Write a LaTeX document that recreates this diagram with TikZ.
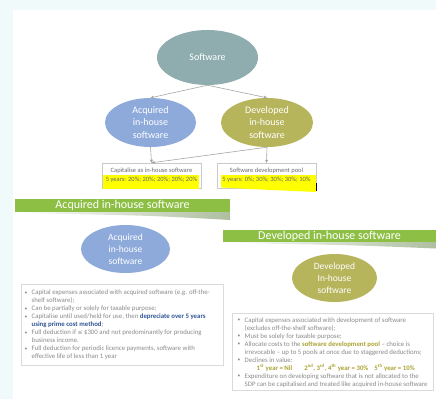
\documentclass[tikz,border=0pt]{standalone}
\usepackage{fontspec}
\usepackage{graphicx}
\setmainfont{Carlito}
\newfontfamily\symfont{DejaVu Sans}
\usetikzlibrary{shapes.geometric,arrows.meta}
\definecolor{bgcyan}{HTML}{F0FAFA}
\definecolor{softcol}{HTML}{8FADAE}
\definecolor{acqcol}{HTML}{8EAADB}
\definecolor{devcol}{HTML}{B7B55C}
\definecolor{bangreen}{HTML}{8DBF45}
\definecolor{swooshcol}{HTML}{AEBFA0}
\definecolor{conncol}{HTML}{A6A6A6}
\definecolor{boxline}{HTML}{C9C9C9}
\definecolor{listline}{HTML}{DADADA}
\definecolor{listgrey}{HTML}{8A8A8A}
\definecolor{ratetextcol}{HTML}{6A6A6A}
\definecolor{boldblue}{HTML}{2F5597}
\definecolor{boldolive}{HTML}{ABA332}
\definecolor{hlyellow}{HTML}{FFFF00}
\newcommand\lbul{\makebox[7pt][l]{\raisebox{0.3pt}{\scalebox{0.8}{\textbullet}}}}
\newcommand\lind{\hspace*{7pt}}
\begin{document}
\begin{tikzpicture}[x=1pt,y=-1pt,
  ell/.style={ellipse, inner sep=0pt, text=white, align=center},
  bigtext/.style={font=\fontsize{10}{12.5}\selectfont},
  smalltext/.style={font=\fontsize{9.5}{12}\selectfont},
  conn/.style={draw=conncol, line width=0.6pt, -{Triangle[length=3pt,width=3pt]}},
  ratebox/.style={draw=boxline, fill=white, line width=0.4pt, inner sep=0pt},
  ratetext/.style={font=\fontsize{6.5}{8.5}\selectfont, text=ratetextcol, align=center, inner sep=0pt},
  banner/.style={fill=bangreen, text=white, inner sep=0pt, font=\fontsize{12}{13}\selectfont},
  listbox/.style={draw=listline, fill=white, line width=0.4pt, inner sep=0pt},
  listtext/.style={font=\fontsize{6.8}{8}\selectfont, text=listgrey, align=left, inner sep=0pt, anchor=north west}
]
\useasboundingbox (0,0) rectangle (436,399);
\fill[bgcyan] (0,0) rectangle (436,399);
\fill[white] (13,10) rectangle (436,399);

% top hierarchy
\node[ell, bigtext, fill=softcol, minimum width=101pt, minimum height=55pt] (soft) at (207.5,57.5) {Software};
\node[ell, bigtext, fill=acqcol, minimum width=91pt, minimum height=49pt] (acq) at (150.5,122.5) {Acquired\\in-house\\software};
\node[ell, bigtext, fill=devcol, minimum width=92pt, minimum height=49pt] (dev) at (267,122.5) {Developed\\in-house\\software};

\node[ratebox, minimum width=99pt, minimum height=25pt] (capbox) at (151.5,175.5) {};
\node[ratebox, minimum width=99pt, minimum height=25pt] (poolbox) at (266.5,175.5) {};

\draw[conn] (soft.south) -- (acq.north);
\draw[conn] (soft.south) -- (dev.north);
\draw[conn] (acq.south) -- (capbox.north);
\draw[conn] (dev.south) -- (poolbox.north);
\draw[conn] (dev.south) -- (capbox.north);

\fill[hlyellow] (103,175) rectangle (199,189);
\fill[hlyellow] (221,175) -- (316,175) -- (316,192) -- (250,189) -- (221,187.5) -- cycle;
\draw[black, line width=0.8pt] (316.5,183) -- (316.5,191);

\node[ratetext] (captext) at (capbox) {Capitalise as in-house software\\5 years: 20\%; 20\%; 20\%; 20\%; 20\%};
\node[ratetext] (pooltext) at (poolbox) {Software development pool\\5 years: 0\%; 30\%; 30\%; 30\%; 10\%};

% left section
\shade[left color=white, right color=swooshcol] (15,212) -- (230,212) -- (230,220) .. controls (150,215.5) .. (15,213) -- cycle;
\node[banner, minimum width=215pt, minimum height=13pt] (bannerA) at (122.5,205.5) {Acquired in-house software};
\node[ell, smalltext, fill=acqcol, minimum width=89pt, minimum height=48pt] (acq2) at (125.5,249) {Acquired\\in-house\\software};

\node[listbox, minimum width=202pt, minimum height=81pt] (acqlist) at (122,324.5) {};
\node[listtext] (acqlisttext) at (24.5,289.3) {%
\lbul Capital expenses associated with acquired software (e.g. off-the-\\
\lind shelf software);\\
\lbul Can be partially or solely for taxable purpose;\\
\lbul Capitalise until used/held for use, then {\bfseries\color{boldblue}depreciate over 5 years}\\
\lind{\bfseries\color{boldblue}using prime cost method};\\
\lbul Full deduction if {\symfont\fontsize{5.8}{8}\selectfont ≤} \$300 and not predominantly for producing\\
\lind business income.\\
\lbul Full deduction for periodic licence payments, software with\\
\lind effective life of less than 1 year};

% right section
\shade[left color=white, right color=swooshcol] (223,242) -- (436,242) -- (436,248.5) .. controls (350,245) .. (223,243) -- cycle;
\node[banner, minimum width=213pt, minimum height=12pt] (bannerD) at (329.5,236) {Developed in-house software};
\node[ell, smalltext, fill=devcol, minimum width=85pt, minimum height=48pt] (dev2) at (334.5,278) {Developed\\In-house\\software};

\node[listbox, minimum width=201pt, minimum height=77pt] (devlist) at (332.5,351.5) {};
\node[listtext] (devlisttext) at (237.5,317.3) {%
\lbul Capital expenses associated with development of software\\
\lind (excludes off-the-shelf software);\\
\lbul Must be solely for taxable purpose;\\
\lbul Allocate costs to the {\bfseries\color{boldolive}software development pool} – choice is\\
\lind irrevocable – up to 5 pools at once due to staggered deductions;\\
\lbul Declines in value:\\
\hspace*{19pt}{\bfseries\color{boldolive}1\textsuperscript{st} year = Nil\hspace{12pt}2\textsuperscript{nd}, 3\textsuperscript{rd}, 4\textsuperscript{th} year = 30\%\hspace{6pt}5\textsuperscript{th} year = 10\%}\\
\lbul Expenditure on developing software that is not allocated to the\\
\lind SDP can be capitalised and treated like acquired in-house software};
\end{tikzpicture}
\end{document}
